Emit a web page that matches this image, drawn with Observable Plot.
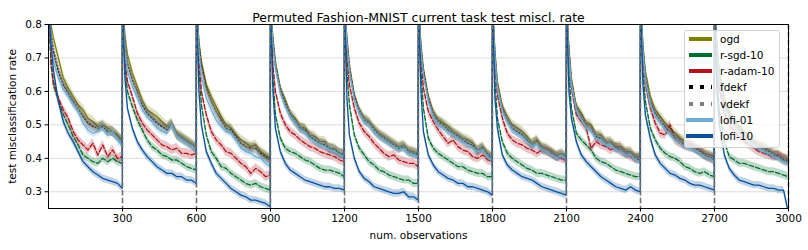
<!DOCTYPE html>
<html>
<head>
<meta charset="utf-8">
<script src="https://cdn.jsdelivr.net/npm/d3@7"></script>
<script src="https://cdn.jsdelivr.net/npm/@observablehq/plot@0.6"></script>
<style>
  html, body { margin: 0; padding: 0; background: #fff; }
  #wrap { position: relative; width: 808px; height: 250px; font-family: "DejaVu Sans", sans-serif; }
  #legend { position: absolute; left: 684px; top: 30px; width: 96px; height: 118px; background: rgba(255,255,255,0.8);
            border: 1px solid #d0d0d0; border-radius: 3px; box-sizing: border-box; }
  .row { position: absolute; left: 0; height: 16px; width: 96px; }
  .row svg { position: absolute; left: 0; top: 0; }
  .row span { position: absolute; left: 35px; top: 0; line-height: 16px; font-size: 10.5px; color: #000; white-space: nowrap; }
</style>
</head>
<body>
<div id="wrap"><div id="chart"></div><div id="legend"></div></div>
<script>
// ---- data ----
const METHODS = ["ogd", "r-sgd-10", "r-adam-10", "fdekf", "vdekf", "lofi-01", "lofi-10"];
const X_TICKS = [300, 600, 900, 1200, 1500, 1800, 2100, 2400, 2700, 3000];
const Y_TICKS = [0.3, 0.4, 0.5, 0.6, 0.7, 0.8];
const TASK_BOUNDARIES = [300, 600, 900, 1200, 1500, 1800, 2100, 2400, 2700, 3000];
const TASK_LENGTH = 300;
const OFFSETS = [0, 10, 20, 40, 60, 80, 100, 120, 140, 160, 180, 200, 220, 240, 260, 280, 299];

const OGD = [
 [0.86,0.80,0.76,0.70,0.64,0.61,0.585,0.56,0.545,0.52,0.51,0.495,0.50,0.49,0.48,0.47,0.455],
 [0.86,0.77,0.71,0.655,0.615,0.575,0.545,0.535,0.525,0.51,0.495,0.505,0.475,0.465,0.455,0.445,0.435],
 [0.86,0.75,0.69,0.62,0.585,0.555,0.525,0.50,0.49,0.47,0.455,0.445,0.435,0.44,0.42,0.41,0.40],
 [0.86,0.76,0.69,0.61,0.575,0.535,0.52,0.495,0.49,0.47,0.465,0.45,0.45,0.43,0.43,0.415,0.415],
 [0.86,0.76,0.68,0.59,0.545,0.52,0.51,0.49,0.475,0.465,0.455,0.445,0.435,0.44,0.425,0.42,0.415],
 [0.86,0.74,0.67,0.585,0.54,0.515,0.505,0.495,0.48,0.47,0.46,0.455,0.445,0.425,0.435,0.415,0.405],
 [0.86,0.72,0.63,0.555,0.525,0.50,0.49,0.48,0.465,0.445,0.455,0.435,0.43,0.42,0.41,0.415,0.405],
 [0.86,0.73,0.64,0.555,0.535,0.505,0.50,0.47,0.47,0.45,0.45,0.435,0.435,0.42,0.42,0.405,0.405],
 [0.86,0.74,0.66,0.585,0.545,0.525,0.505,0.49,0.475,0.46,0.45,0.44,0.435,0.425,0.415,0.41,0.405],
 [0.86,0.74,0.66,0.58,0.54,0.515,0.495,0.48,0.465,0.45,0.44,0.435,0.425,0.415,0.41,0.40,0.395]
];
const RSGD = [
 [0.86,0.68,0.62,0.575,0.53,0.50,0.465,0.44,0.41,0.40,0.39,0.385,0.40,0.39,0.40,0.39,0.385],
 [0.86,0.67,0.60,0.555,0.515,0.485,0.455,0.435,0.425,0.41,0.405,0.395,0.395,0.385,0.375,0.37,0.365],
 [0.86,0.66,0.56,0.47,0.42,0.40,0.375,0.37,0.355,0.345,0.335,0.325,0.32,0.325,0.315,0.31,0.305],
 [0.86,0.64,0.53,0.46,0.43,0.42,0.415,0.405,0.395,0.39,0.38,0.37,0.365,0.365,0.36,0.355,0.345],
 [0.86,0.66,0.56,0.47,0.43,0.41,0.39,0.38,0.365,0.36,0.35,0.345,0.34,0.335,0.335,0.325,0.325],
 [0.86,0.66,0.55,0.46,0.43,0.415,0.405,0.395,0.385,0.375,0.375,0.365,0.36,0.355,0.355,0.345,0.345],
 [0.86,0.63,0.52,0.45,0.415,0.40,0.39,0.38,0.37,0.365,0.355,0.355,0.35,0.345,0.34,0.335,0.335],
 [0.86,0.65,0.55,0.475,0.455,0.44,0.425,0.40,0.39,0.385,0.375,0.365,0.36,0.355,0.35,0.345,0.345],
 [0.86,0.66,0.57,0.49,0.455,0.43,0.415,0.405,0.40,0.39,0.375,0.37,0.36,0.355,0.36,0.35,0.345],
 [0.86,0.64,0.54,0.45,0.405,0.395,0.385,0.385,0.38,0.375,0.37,0.365,0.36,0.36,0.355,0.35,0.345]
];
const RADAM = [
 [0.86,0.70,0.63,0.58,0.545,0.52,0.48,0.455,0.44,0.425,0.445,0.41,0.44,0.405,0.425,0.40,0.405],
 [0.86,0.70,0.63,0.585,0.535,0.505,0.485,0.47,0.455,0.44,0.435,0.425,0.43,0.415,0.415,0.41,0.415],
 [0.86,0.70,0.60,0.53,0.48,0.455,0.44,0.42,0.415,0.40,0.385,0.375,0.355,0.37,0.36,0.345,0.35],
 [0.86,0.68,0.60,0.535,0.50,0.48,0.47,0.455,0.445,0.435,0.43,0.42,0.415,0.41,0.405,0.395,0.39],
 [0.86,0.70,0.62,0.55,0.505,0.48,0.465,0.445,0.43,0.415,0.405,0.41,0.395,0.39,0.385,0.385,0.375],
 [0.86,0.70,0.61,0.54,0.51,0.485,0.465,0.445,0.455,0.435,0.425,0.42,0.405,0.40,0.41,0.395,0.39],
 [0.86,0.68,0.59,0.52,0.475,0.455,0.445,0.44,0.43,0.425,0.415,0.425,0.42,0.415,0.405,0.40,0.395],
 [0.86,0.70,0.61,0.53,0.51,0.49,0.43,0.45,0.44,0.435,0.425,0.435,0.42,0.415,0.405,0.40,0.395],
 [0.86,0.70,0.62,0.55,0.505,0.475,0.47,0.50,0.455,0.445,0.44,0.445,0.43,0.425,0.41,0.40,0.395],
 [0.86,0.70,0.61,0.535,0.50,0.48,0.465,0.45,0.44,0.43,0.42,0.415,0.41,0.405,0.41,0.40,0.395]
];
const FDEKF = [
 [0.86,0.77,0.72,0.66,0.62,0.595,0.57,0.55,0.525,0.505,0.495,0.49,0.495,0.48,0.48,0.465,0.45],
 [0.86,0.74,0.685,0.635,0.60,0.56,0.535,0.52,0.505,0.495,0.485,0.50,0.47,0.46,0.45,0.44,0.43],
 [0.86,0.74,0.68,0.61,0.57,0.54,0.515,0.49,0.485,0.465,0.445,0.435,0.43,0.43,0.415,0.405,0.395],
 [0.86,0.75,0.68,0.605,0.565,0.53,0.51,0.49,0.485,0.465,0.455,0.445,0.44,0.43,0.425,0.415,0.41],
 [0.86,0.75,0.67,0.585,0.54,0.515,0.505,0.485,0.47,0.46,0.45,0.44,0.43,0.435,0.42,0.415,0.41],
 [0.86,0.73,0.66,0.58,0.53,0.51,0.50,0.485,0.475,0.465,0.455,0.445,0.44,0.42,0.43,0.41,0.40],
 [0.86,0.71,0.62,0.55,0.515,0.49,0.48,0.47,0.455,0.44,0.45,0.43,0.425,0.415,0.405,0.41,0.40],
 [0.86,0.72,0.63,0.55,0.525,0.50,0.49,0.465,0.46,0.445,0.445,0.43,0.43,0.415,0.415,0.40,0.40],
 [0.86,0.73,0.645,0.57,0.535,0.515,0.495,0.48,0.465,0.455,0.44,0.435,0.43,0.42,0.41,0.405,0.40],
 [0.86,0.73,0.645,0.565,0.53,0.505,0.485,0.47,0.455,0.445,0.435,0.43,0.42,0.41,0.405,0.395,0.39]
];
const VDEKF = [
 [0.86,0.78,0.73,0.67,0.625,0.60,0.575,0.55,0.53,0.51,0.50,0.49,0.50,0.485,0.475,0.465,0.45],
 [0.86,0.75,0.69,0.64,0.60,0.565,0.54,0.525,0.51,0.50,0.49,0.505,0.47,0.46,0.45,0.44,0.43],
 [0.86,0.74,0.675,0.605,0.57,0.54,0.51,0.495,0.48,0.46,0.445,0.435,0.425,0.435,0.41,0.40,0.39],
 [0.86,0.75,0.685,0.61,0.565,0.535,0.51,0.495,0.48,0.47,0.46,0.445,0.445,0.43,0.425,0.415,0.41],
 [0.86,0.75,0.675,0.585,0.545,0.515,0.505,0.485,0.47,0.46,0.45,0.44,0.43,0.435,0.42,0.415,0.41],
 [0.86,0.73,0.66,0.58,0.535,0.51,0.50,0.49,0.475,0.465,0.455,0.45,0.435,0.425,0.43,0.41,0.405],
 [0.86,0.71,0.625,0.55,0.52,0.495,0.485,0.475,0.46,0.44,0.45,0.43,0.425,0.415,0.405,0.41,0.40],
 [0.86,0.72,0.635,0.55,0.525,0.50,0.49,0.47,0.465,0.445,0.445,0.43,0.43,0.415,0.415,0.40,0.40],
 [0.86,0.73,0.65,0.575,0.54,0.515,0.50,0.48,0.465,0.455,0.445,0.435,0.43,0.42,0.41,0.405,0.40],
 [0.86,0.73,0.65,0.57,0.53,0.51,0.49,0.475,0.46,0.445,0.435,0.43,0.42,0.41,0.405,0.40,0.39]
];
const LOFI01 = [
 [0.86,0.74,0.69,0.64,0.605,0.585,0.56,0.54,0.505,0.485,0.475,0.48,0.49,0.47,0.48,0.455,0.435],
 [0.86,0.72,0.66,0.615,0.58,0.545,0.525,0.51,0.49,0.48,0.475,0.50,0.465,0.455,0.445,0.435,0.425],
 [0.86,0.72,0.645,0.58,0.545,0.515,0.495,0.48,0.475,0.455,0.43,0.42,0.415,0.405,0.40,0.385,0.375],
 [0.86,0.74,0.67,0.595,0.555,0.525,0.505,0.485,0.475,0.46,0.45,0.44,0.435,0.425,0.42,0.41,0.405],
 [0.86,0.74,0.66,0.575,0.535,0.51,0.50,0.48,0.465,0.455,0.445,0.435,0.425,0.43,0.415,0.41,0.405],
 [0.86,0.72,0.65,0.57,0.525,0.50,0.49,0.48,0.47,0.46,0.45,0.44,0.43,0.42,0.425,0.405,0.395],
 [0.86,0.70,0.61,0.54,0.51,0.485,0.475,0.465,0.45,0.435,0.44,0.425,0.42,0.41,0.40,0.41,0.395],
 [0.86,0.70,0.62,0.545,0.515,0.49,0.48,0.46,0.455,0.44,0.44,0.425,0.42,0.41,0.41,0.395,0.39],
 [0.86,0.72,0.63,0.56,0.525,0.505,0.485,0.47,0.455,0.445,0.435,0.43,0.425,0.415,0.405,0.40,0.39],
 [0.86,0.71,0.63,0.555,0.52,0.50,0.48,0.465,0.45,0.44,0.43,0.42,0.415,0.405,0.40,0.39,0.385]
];
const LOFI10 = [
 [0.86,0.74,0.665,0.57,0.51,0.475,0.45,0.42,0.39,0.375,0.36,0.35,0.34,0.335,0.33,0.325,0.31],
 [0.86,0.64,0.55,0.49,0.45,0.425,0.405,0.39,0.375,0.365,0.355,0.355,0.345,0.345,0.335,0.335,0.325],
 [0.86,0.60,0.50,0.42,0.385,0.355,0.34,0.325,0.31,0.30,0.29,0.285,0.275,0.275,0.27,0.265,0.255],
 [0.86,0.60,0.49,0.42,0.385,0.365,0.355,0.345,0.335,0.33,0.325,0.32,0.315,0.315,0.31,0.31,0.305],
 [0.86,0.58,0.47,0.40,0.36,0.34,0.33,0.315,0.31,0.305,0.30,0.295,0.295,0.30,0.285,0.285,0.275],
 [0.86,0.60,0.48,0.41,0.38,0.36,0.35,0.34,0.335,0.325,0.325,0.315,0.315,0.31,0.305,0.30,0.29],
 [0.86,0.58,0.49,0.41,0.38,0.365,0.355,0.345,0.34,0.335,0.325,0.315,0.31,0.305,0.30,0.295,0.29],
 [0.86,0.60,0.52,0.45,0.41,0.39,0.375,0.36,0.345,0.335,0.325,0.315,0.31,0.305,0.315,0.305,0.30],
 [0.86,0.62,0.53,0.46,0.41,0.385,0.37,0.355,0.35,0.34,0.335,0.325,0.32,0.32,0.315,0.31,0.305],
 [0.86,0.60,0.50,0.41,0.37,0.35,0.335,0.33,0.325,0.32,0.32,0.315,0.31,0.31,0.305,0.305,0.24]
];
// half-width of the shaded band around each method
const BAND_HALF = [0.015, 0.012, 0.014, 0.015, 0.012, 0.012, 0.011];

// ---- styles ----
const SERIES = [OGD, RSGD, RADAM, FDEKF, VDEKF, LOFI01, LOFI10];
const COLORS = ["#808000", "#006d2c", "#b0141e", "#000000", "#808080", "#6baed6", "#08519c"];
const DASHES = [null, "4.8,2.1", "4.8,2.1", "1.3,2.1", "1.3,2.1", null, null];

const rows = [];
SERIES.forEach((tasks, m) => {
  tasks.forEach((vals, t) => {
    vals.forEach((v, i) => {
      rows.push({method: METHODS[m], x: t * TASK_LENGTH + OFFSETS[i], y: v,
                 lo: v - BAND_HALF[m], hi: v + BAND_HALF[m]});
    });
  });
});

const marks = [Plot.gridY(Y_TICKS, {stroke: "#dcdcdc", strokeOpacity: 1, strokeWidth: 1})];
METHODS.forEach((name, m) => {
  const d = rows.filter(r => r.method === name);
  marks.push(Plot.areaY(d, {x: "x", y1: "lo", y2: "hi", fill: COLORS[m], fillOpacity: 0.25, clip: true}));
  marks.push(Plot.line(d, {x: "x", y: "y", stroke: COLORS[m], strokeWidth: 1.3,
                           strokeDasharray: DASHES[m] || undefined, clip: true}));
});
marks.push(Plot.ruleX(TASK_BOUNDARIES, {stroke: "#6e6e6e", strokeWidth: 1.5, strokeDasharray: "5.5,2.4"}));
marks.push(Plot.frame({stroke: "#000", strokeWidth: 1}));
marks.push(Plot.axisX({ticks: X_TICKS, tickSize: 3.5, tickPadding: 3, label: null, tickFormat: d => String(d)}));
marks.push(Plot.axisY({ticks: Y_TICKS, tickSize: 3.5, tickPadding: 3, label: null, tickFormat: d => d.toFixed(1)}));
marks.push(Plot.text(["Permuted Fashion-MNIST current task test miscl. rate"], {frameAnchor: "top", dy: -11, fontSize: 12.5}));
marks.push(Plot.text(["num. observations"], {frameAnchor: "bottom", dy: 30, fontSize: 10.5}));
marks.push(Plot.text(["test misclassification rate"], {frameAnchor: "left", textAnchor: "middle", rotate: -90, dx: -36, fontSize: 10.5}));

const chart = Plot.plot({
  width: 808, height: 250,
  marginTop: 24, marginBottom: 42, marginLeft: 48, marginRight: 20,
  x: {domain: [0, 3000]},
  y: {domain: [0.25, 0.8]},
  style: {fontFamily: "DejaVu Sans", fontSize: "10.5px", background: "#fff", color: "#000"},
  marks
});
document.getElementById("chart").appendChild(chart);

// ---- legend ----
const legend = document.getElementById("legend");
METHODS.forEach((name, m) => {
  const row = document.createElement("div");
  row.className = "row";
  row.style.top = (9.3 + 16.05 * m - 8 - 1) + "px";
  const isLofi = name.startsWith("lofi");
  const x1 = isLofi ? 1 : 4, x2 = isLofi ? 28 : 27;
  const dotted = name === "fdekf" || name === "vdekf";
  const dash = dotted ? ' stroke-dasharray="4,7"' : "";
  row.innerHTML = `<svg width="32" height="16"><line x1="${x1}" x2="${x2}" y1="8" y2="8" stroke="${COLORS[m]}" stroke-width="4"${dash}/></svg><span>${name}</span>`;
  legend.appendChild(row);
});
</script>
</body>
</html>
